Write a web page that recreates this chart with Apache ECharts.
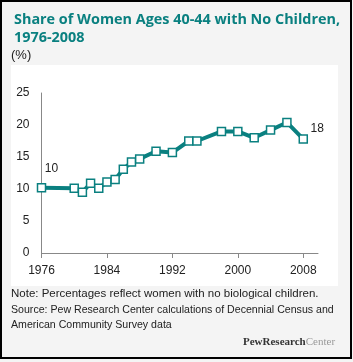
<!DOCTYPE html>
<html lang="en" style="height: 100%">
<head>
  <meta charset="utf-8">
</head>
<body style="height: 100%; margin: 0">
  <div id="container" style="height: 100%"></div>
  <script type="text/javascript" src="https://fastly.jsdelivr.net/npm/echarts@6.0.0/dist/echarts.min.js"></script>
  <script type="text/javascript">
    // share of women 40-44 with no children (%)
    var years = [1976, 1980, 1981, 1982, 1983, 1984, 1985, 1986, 1987, 1988, 1990, 1992, 1994, 1995, 1998, 2000, 2002, 2004, 2006, 2008];
    var shares = [10.2, 10.1, 9.5, 10.9, 10.1, 11.1, 11.5, 13.1, 14.2, 14.7, 15.9, 15.7, 17.5, 17.5, 19.0, 19.0, 18.0, 19.2, 20.4, 17.8];
    var labelled = { 1976: '10', 2008: '18' };
    var yTicks = [0, 5, 10, 15, 20, 25];
    var xTicks = [1976, 1984, 1992, 2000, 2008];

    var teal = '#0a8080';
    var txt = '#222';

    var dom = document.getElementById('container');
    var myChart = echarts.init(dom, null, { renderer: 'canvas' });

    var points = years.map(function (y, i) {
      var item = { value: [y, shares[i]] };
      if (labelled[y]) {
        item.label = {
          show: true,
          formatter: labelled[y],
          position: y === 1976 ? [8, -20] : [12, -12],
          color: txt,
          fontSize: 12,
          fontFamily: 'Liberation Sans'
        };
      }
      return item;
    });

    var option = {
      backgroundColor: '#f4f4f4',
      animation: false,
      title: {
        text: 'Share of Women Ages 40-44 with No Children,\n1976-2008',
        left: 9,
        top: 6,
        textStyle: {
          color: teal,
          fontFamily: 'Open Sans',
          fontWeight: 'bold',
          fontSize: 14.4,
          lineHeight: 18
        }
      },
      graphic: [
        { type: 'rect', shape: { x: 1, y: 1, width: 350, height: 357 }, style: { fill: null, stroke: '#000', lineWidth: 2 }, silent: true },
        { type: 'rect', z: -1, shape: { x: 11, y: 65, width: 327, height: 221 }, style: { fill: '#fff' }, silent: true },
        { type: 'text', left: 11, top: 49, style: { text: '(%)', fill: txt, font: '13px "Liberation Sans"' } },
        { type: 'text', left: 11, top: 288, style: { text: 'Note: Percentages reflect women with no biological children.', fill: txt, font: '11.5px "Liberation Sans"' } },
        { type: 'text', left: 11, top: 303, style: { text: 'Source: Pew Research Center calculations of Decennial Census and\nAmerican Community Survey data', fill: txt, font: '10.6px "Liberation Sans"', lineHeight: 15 } },
        {
          type: 'text', left: 243, top: 337,
          style: {
            text: '{a|PewResearch}{b|Center}',
            rich: {
              a: { fill: '#333', font: 'bold 11px "Liberation Serif"' },
              b: { fill: '#999', font: '11px "Liberation Serif"' }
            }
          }
        }
      ],
      grid: { left: 41.5, right: 35, top: 93, bottom: 109 },
      xAxis: {
        type: 'value',
        min: 1976,
        max: 2009.8,
        interval: 8,
        axisLine: { lineStyle: { color: '#888' } },
        axisTick: { show: true, length: 5, lineStyle: { color: '#888' } },
        axisLabel: {
          margin: 12, color: txt, fontSize: 12, fontFamily: 'Liberation Sans',
          showMaxLabel: false,
          formatter: function (v) { return xTicks.indexOf(v) >= 0 ? String(v) : ''; }
        },
        splitLine: { show: false }
      },
      yAxis: {
        type: 'value',
        min: 0,
        max: 25,
        interval: 5,
        axisLine: { show: true, lineStyle: { color: '#888' } },
        axisTick: { show: false },
        axisLabel: {
          margin: 12, color: txt, fontSize: 12, fontFamily: 'Liberation Sans',
          formatter: function (v) { return yTicks.indexOf(v) >= 0 ? String(v) : ''; }
        },
        splitLine: { show: false }
      },
      series: [{
        type: 'line',
        data: points,
        symbol: 'rect',
        symbolSize: 8,
        showAllSymbol: true,
        lineStyle: { color: teal, width: 4 },
        itemStyle: { color: '#fff', borderColor: teal, borderWidth: 1.5 }
      }]
    };

    myChart.setOption(option);
    window.addEventListener('resize', myChart.resize);
  </script>
</body>
</html>
